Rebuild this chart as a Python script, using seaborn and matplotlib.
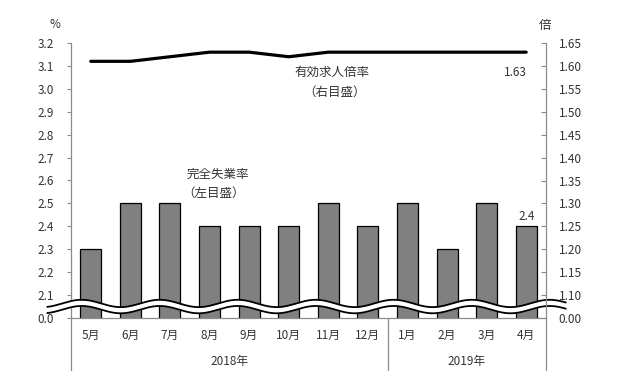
import numpy as np
import pandas as pd
import matplotlib
matplotlib.use("Agg")
import matplotlib.pyplot as plt
import matplotlib.transforms as mtransforms
import seaborn as sns

# --- data ---
months = ["5月", "6月", "7月", "8月", "9月", "10月", "11月", "12月",
          "1月", "2月", "3月", "4月"]
years = ["2018年", "2019年"]
months_per_year = [8, 4]
unemployment = [2.3, 2.5, 2.5, 2.4, 2.4, 2.4, 2.5, 2.4, 2.5, 2.3, 2.5, 2.4]
job_ratio = [1.61, 1.61, 1.62, 1.63, 1.63, 1.62, 1.63, 1.63, 1.63, 1.63, 1.63, 1.63]

# broken axes: the bottom tick stands for zero
left_ticks = [2.0, 2.1, 2.2, 2.3, 2.4, 2.5, 2.6, 2.7, 2.8, 2.9, 3.0, 3.1, 3.2]
left_labels = ["0.0", "2.1", "2.2", "2.3", "2.4", "2.5", "2.6", "2.7",
               "2.8", "2.9", "3.0", "3.1", "3.2"]
right_ticks = [1.05, 1.10, 1.15, 1.20, 1.25, 1.30, 1.35, 1.40,
               1.45, 1.50, 1.55, 1.60, 1.65]
right_labels = ["0.00", "1.10", "1.15", "1.20", "1.25", "1.30", "1.35",
                "1.40", "1.45", "1.50", "1.55", "1.60", "1.65"]

df = pd.DataFrame({"month": months, "rate": unemployment, "ratio": job_ratio})
df["pos"] = range(len(df))

sns.set_style("white")
plt.rcParams["font.family"] = ["Noto Sans CJK JP", "DejaVu Sans"]

TXT = "#333333"
AXC = "#8c8c8c"
FS = 8.5     # tick / category text
FA = 9       # series notes

fig, ax = plt.subplots(figsize=(6.35, 3.77), dpi=100)
fig.subplots_adjust(left=71 / 635, right=546 / 635, bottom=59 / 377, top=334 / 377)

sns.barplot(data=df, x="month", y="rate", color="#808080", saturation=1,
            edgecolor="black", linewidth=0.9, width=0.53, ax=ax, zorder=2)
ax.set_xlim(-0.5, 11.5)
ax.set_ylim(2.0, 3.2)
ax.set_xlabel("")
ax.set_ylabel("")
ax.set_yticks(left_ticks)
ax.set_yticklabels(left_labels)
ax.tick_params(axis="y", direction="out", length=3, width=0.8, color=AXC,
               pad=9, labelsize=FS, labelcolor=TXT, left=True)
ax.tick_params(axis="x", length=0, pad=8, labelsize=FS, labelcolor=TXT)

ax2 = ax.twinx()
sns.lineplot(data=df, x="pos", y="ratio", color="black", linewidth=2.3, ax=ax2,
             zorder=5)
ax2.set_ylim(1.05, 1.65)
ax2.set_ylabel("")
ax2.set_xlabel("")
ax2.set_yticks(right_ticks)
ax2.set_yticklabels(right_labels)
ax2.tick_params(axis="y", direction="in", length=3.5, width=0.8, color=AXC,
                pad=9, labelsize=FS, labelcolor=TXT, right=True)
ax.set_xlim(-0.5, 11.5)

for a in (ax, ax2):
    a.spines["top"].set_visible(False)
    for s in ("left", "right", "bottom"):
        a.spines[s].set_color(AXC)
        a.spines[s].set_linewidth(0.9)
ax.spines["right"].set_visible(False)
ax2.spines["left"].set_visible(False)
ax2.spines["bottom"].set_visible(False)

# wavy break band across the bottom of the axes
wx = np.linspace(-1.1, 12.0, 800)
wy = 2.050 + 0.016 * np.cos(2 * np.pi * (wx + 0.23) / 1.97)
hw = 0.0135
band = ax.fill_between(wx, wy - hw, wy + hw, color="white", zorder=4, lw=0)
band.set_clip_on(False)
for sgn in (-1, 1):
    ax.plot(wx, wy + sgn * hw, color="black", lw=1.3, zorder=4.5, clip_on=False)

# year group separators below the axis
trans = mtransforms.blended_transform_factory(ax.transData, ax.transAxes)
edges = [-0.5]
for n in months_per_year:
    edges.append(edges[-1] + n)
for e in edges:
    ax.plot([e, e], [0, -0.19], color=AXC, lw=0.9, transform=trans, clip_on=False)
start = -0.5
for yr, n in zip(years, months_per_year):
    ax.text(start + n / 2, -0.16, yr, transform=trans, ha="center", va="center",
            fontsize=FS, color=TXT)
    start += n

# unit labels
fig.text(55 / 635, 1 - 25 / 377, "%", ha="center", va="center", fontsize=FS, color=TXT)
fig.text(545 / 635, 1 - 25 / 377, "倍", ha="center", va="center", fontsize=FA, color=TXT)

# series annotations
ax2.text(6.1, 1.585, "有効求人倍率", ha="center", va="center", fontsize=FA, color=TXT)
ax2.text(6.15, 1.543, "（右目盛）", ha="center", va="center", fontsize=FA, color=TXT)
ax.text(2.42, 2.629, "完全失業率", ha="left", va="center", fontsize=FA, color=TXT)
ax.text(2.30, 2.546, "（左目盛）", ha="left", va="center", fontsize=FA, color=TXT)

ax2.annotate(f"{job_ratio[-1]:.2f}", xy=(df["pos"].iloc[-1], job_ratio[-1]),
             xytext=(-11, -20), textcoords="offset pixels", ha="center",
             va="center", fontsize=FS, color=TXT)
ax.annotate(f"{unemployment[-1]:.1f}", xy=(df["pos"].iloc[-1], unemployment[-1]),
            xytext=(0, 10), textcoords="offset pixels", ha="center",
            va="center", fontsize=FS, color=TXT)

fig.savefig("out.png", dpi=100)
